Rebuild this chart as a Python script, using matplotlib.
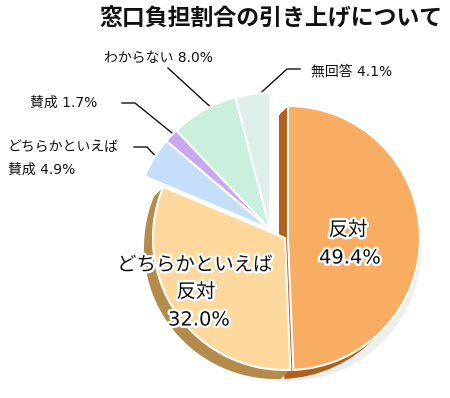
import matplotlib
matplotlib.use("Agg")
import matplotlib.pyplot as plt
import matplotlib.patheffects as pe

# latin digits from DejaVu (wider), kana/kanji fall back to Noto CJK
plt.rcParams['font.family'] = ['DejaVu Sans', 'Noto Sans CJK JP']

# Data (clockwise from 12 o'clock)
labels = ['反対', 'どちらかといえば反対', 'どちらかといえば賛成', '賛成', 'わからない', '無回答']
values = [49.4, 32.0, 4.9, 1.7, 8.0, 4.1]
face_colors = ['#F9AD62', '#FED89C', '#C5DEFA', '#C9A8F2', '#C9EFDD', '#DEEEEA']
side_colors = ['#B3601C', '#B48B4B', 'none', 'none', 'none', 'none']
title = '窓口負担割合の引き上げについて'

# Geometry in image pixels (y grows downward)
cx, cy, R = 285, 238, 132
small_center = (270, 229)
small_R = 136
depth = 9

fig = plt.figure(figsize=(4.5, 3.98), dpi=100)
ax = fig.add_axes([0, 0, 1, 1])


def draw_pie(colors, center, edge, lw, z, radius=R):
    wedges, _ = ax.pie(values, colors=colors, center=center, radius=radius,
                       startangle=-90, counterclock=True,
                       wedgeprops=dict(edgecolor=edge, linewidth=lw))
    for w in wedges:
        w.set_zorder(z)
    # big "反対" slice is pulled slightly to the right
    x0, y0 = wedges[0].center
    wedges[0].set_center((x0 + 3, y0))
    return wedges


# soft drop shadow
draw_pie(['#EEEEEE', '#EEEEEE', 'none', 'none', 'none', 'none'],
         (cx + 1, cy + depth + 2), 'none', 0, 1)

# extruded side of the two big slices
for k in range(depth, 0, -1):
    draw_pie(side_colors, (cx - k, cy + k), 'none', 0, 2)

# top faces
wedges = draw_pie(face_colors, (cx, cy), 'white', 1.5, 3)
for w in wedges[2:]:
    w.set_center(small_center)
    w.set_radius(small_R)

ax.set_xlim(0, 450)
ax.set_ylim(398, 0)
ax.set_aspect('auto')
ax.axis('off')

# title
ax.text(443, 19, title, ha='right', va='center', fontsize=16.5,
        fontweight='bold', color='#111111', family=['Noto Sans CJK JP'])

# outside labels with leader lines
lab_kw = dict(fontsize=10, color='#111111', va='center', ha='left')
ax.text(104, 58, f'{labels[4]} {values[4]:.1f}%', **lab_kw)
ax.plot([168, 217], [68, 113], color='#111111', lw=1)

ax.text(311, 71, f'{labels[5]} {values[5]:.1f}%', **lab_kw)
ax.plot([300, 287, 253], [69, 69, 100], color='#111111', lw=1)

ax.text(30, 103, f'{labels[3]} {values[3]:.1f}%', **lab_kw)
ax.plot([122, 135, 177], [103, 103, 137], color='#111111', lw=1)

ax.text(8, 147, 'どちらかといえば', **lab_kw)
ax.text(8, 170, f'賛成 {values[2]:.1f}%', **lab_kw)
ax.plot([134, 147, 162], [147, 147, 163], color='#111111', lw=1)

# inside labels with white halo
halo = [pe.withStroke(linewidth=3.5, foreground='white')]
in_kw = dict(fontsize=14, color='#111111', ha='center', va='center',
             path_effects=halo, zorder=5)
ax.text(348, 230, labels[0], **in_kw)
ax.text(350, 258, f'{values[0]:.1f}%', **in_kw)
ax.text(195, 265, 'どちらかといえば', **in_kw)
ax.text(196, 292, '反対', **in_kw)
ax.text(199, 320, f'{values[1]:.1f}%', **in_kw)

fig.savefig('out.png', dpi=100)
